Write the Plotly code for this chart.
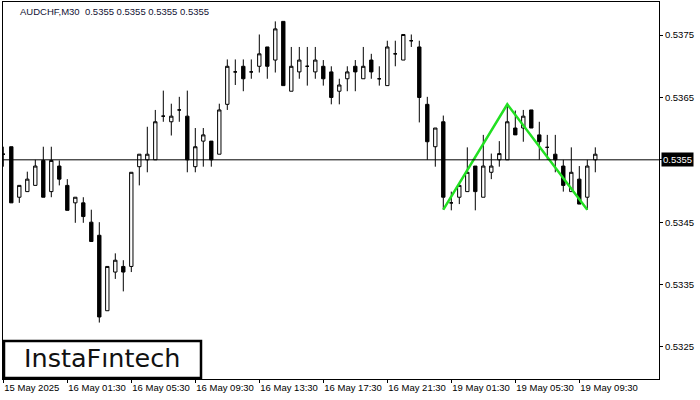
import plotly.graph_objects as go

# ---- data ----
opens = [0.53559, 0.53571, 0.53490, 0.53499, 0.53509, 0.53549, 0.53499, 0.53540, 0.53509, 0.53481,
         0.53481, 0.53450, 0.53429, 0.53308, 0.53370, 0.53379, 0.53379, 0.53539, 0.53550, 0.53550,
         0.53620, 0.53611, 0.53630, 0.53620, 0.53539, 0.53580, 0.53580, 0.53559, 0.53639, 0.53691,
         0.53700, 0.53691, 0.53700, 0.53731, 0.53710, 0.53772, 0.53660, 0.53691, 0.53700, 0.53691,
         0.53700, 0.53691, 0.53660, 0.53680, 0.53700, 0.53680, 0.53710, 0.53680, 0.53669, 0.53720,
         0.53710, 0.53741, 0.53731, 0.53639, 0.53571, 0.53611, 0.53481, 0.53490, 0.53499, 0.53540,
         0.53490, 0.53530, 0.53550, 0.53550, 0.53601, 0.53601, 0.53630, 0.53590, 0.53570, 0.53559,
         0.53540, 0.53499, 0.53519, 0.53490, 0.53550]
highs = [0.53571, 0.53571, 0.53509, 0.53531, 0.53550, 0.53571, 0.53571, 0.53549, 0.53519, 0.53490,
         0.53490, 0.53470, 0.53450, 0.53379, 0.53400, 0.53389, 0.53530, 0.53559, 0.53603, 0.53630,
         0.53661, 0.53640, 0.53651, 0.53661, 0.53601, 0.53601, 0.53580, 0.53640, 0.53711, 0.53711,
         0.53711, 0.53711, 0.53751, 0.53731, 0.53772, 0.53772, 0.53731, 0.53731, 0.53731, 0.53731,
         0.53710, 0.53700, 0.53680, 0.53700, 0.53710, 0.53731, 0.53720, 0.53700, 0.53741, 0.53741,
         0.53751, 0.53751, 0.53741, 0.53651, 0.53601, 0.53621, 0.53499, 0.53512, 0.53570, 0.53540,
         0.53590, 0.53560, 0.53580, 0.53639, 0.53629, 0.53630, 0.53630, 0.53611, 0.53590, 0.53590,
         0.53550, 0.53570, 0.53540, 0.53550, 0.53570]
lows = [0.53539, 0.53481, 0.53481, 0.53499, 0.53509, 0.53490, 0.53490, 0.53509, 0.53469, 0.53449,
        0.53449, 0.53419, 0.53289, 0.53308, 0.53359, 0.53339, 0.53370, 0.53509, 0.53530, 0.53550,
        0.53611, 0.53589, 0.53611, 0.53530, 0.53530, 0.53539, 0.53539, 0.53559, 0.53630, 0.53670,
        0.53660, 0.53680, 0.53690, 0.53680, 0.53690, 0.53669, 0.53660, 0.53680, 0.53669, 0.53680,
        0.53669, 0.53639, 0.53639, 0.53660, 0.53660, 0.53680, 0.53680, 0.53669, 0.53669, 0.53700,
        0.53710, 0.53731, 0.53610, 0.53550, 0.53539, 0.53470, 0.53469, 0.53479, 0.53499, 0.53469,
        0.53490, 0.53519, 0.53539, 0.53550, 0.53590, 0.53579, 0.53601, 0.53550, 0.53550, 0.53530,
        0.53499, 0.53499, 0.53479, 0.53470, 0.53530]
closes = [0.53559, 0.53481, 0.53509, 0.53519, 0.53540, 0.53490, 0.53549, 0.53519, 0.53469, 0.53490,
          0.53459, 0.53419, 0.53298, 0.53379, 0.53389, 0.53370, 0.53530, 0.53559, 0.53559, 0.53611,
          0.53620, 0.53620, 0.53630, 0.53550, 0.53571, 0.53590, 0.53550, 0.53630, 0.53700, 0.53691,
          0.53680, 0.53691, 0.53720, 0.53700, 0.53760, 0.53669, 0.53700, 0.53710, 0.53700, 0.53710,
          0.53680, 0.53650, 0.53670, 0.53691, 0.53691, 0.53700, 0.53691, 0.53680, 0.53731, 0.53720,
          0.53751, 0.53741, 0.53650, 0.53579, 0.53601, 0.53490, 0.53481, 0.53509, 0.53530, 0.53499,
          0.53540, 0.53540, 0.53560, 0.53611, 0.53590, 0.53620, 0.53601, 0.53579, 0.53570, 0.53550,
          0.53509, 0.53530, 0.53479, 0.53540, 0.53559]

tick_index = [0, 8, 16, 24, 32, 40, 48, 56, 64, 72]
tick_labels = ["15 May 2025", "16 May 01:30", "16 May 05:30", "16 May 09:30", "16 May 13:30",
               "16 May 17:30", "16 May 21:30", "19 May 01:30", "19 May 05:30", "19 May 09:30"]
price_ticks = [0.5325, 0.5335, 0.5345, 0.5355, 0.5365, 0.5375]
price_labels = ["0.5325", "0.5335", "0.5345", "", "0.5365", "0.5375"]

pattern_x = [55, 63, 73]
pattern_y = [0.5347, 0.53639, 0.5347]

current_price = 0.5355
title_text = "AUDCHF,M30  0.5355 0.5355 0.5355 0.5355"
logo_text = "InstaFıntech"

# ---- figure ----
W, H = 700, 400
ML, MR, MT, MB = 3, 41, 2, 21
PW, PH = W - ML - MR, H - MT - MB

def px_x(px):
    return (px - ML) / PW

def px_y(py):
    return (H - MB - py) / PH

x = list(range(len(opens)))
fig = go.Figure()
fig.add_trace(go.Candlestick(
    x=x, open=opens, high=highs, low=lows, close=closes,
    increasing=dict(line=dict(color="black", width=1), fillcolor="white"),
    decreasing=dict(line=dict(color="black", width=1), fillcolor="black"),
    whiskerwidth=0, hoverinfo="skip", showlegend=False,
))
fig.add_trace(go.Scatter(
    x=pattern_x, y=pattern_y, mode="lines",
    line=dict(color="#22e022", width=2.5), hoverinfo="skip", showlegend=False,
))

fig.add_shape(type="line", xref="paper", yref="y", x0=0, x1=1,
              y0=current_price, y1=current_price, line=dict(color="black", width=1))

xl = -0.3 / 8
fig.update_layout(
    width=W, height=H, autosize=False,
    margin=dict(l=ML, r=MR, t=MT, b=MB, pad=0),
    paper_bgcolor="white", plot_bgcolor="white",
    boxgap=0.4,
    font=dict(family="Liberation Sans, Arial, sans-serif", size=9.5, color="black"),
    xaxis=dict(
        range=[xl, xl + PW / 8], rangeslider=dict(visible=False),
        tickmode="array", tickvals=tick_index, ticktext=tick_labels,
        ticks="outside", ticklen=3, tickcolor="black", tickangle=0,
        ticklabelposition="outside right", automargin=False,
        showgrid=False, zeroline=False,
        showline=True, mirror=True, linecolor="black", linewidth=1,
        tickfont=dict(size=9.5, color="black"),
    ),
    yaxis=dict(
        range=[0.531985, 0.538031], side="right", automargin=False,
        tickmode="array", tickvals=price_ticks, ticktext=price_labels,
        ticks="outside", ticklen=3, tickcolor="black",
        showgrid=False, zeroline=False,
        showline=True, mirror=True, linecolor="black", linewidth=1,
        tickfont=dict(size=9.5, color="black"),
    ),
)

# price tag
fig.add_annotation(xref="paper", yref="y", x=1, y=current_price, xanchor="left", yanchor="middle",
                   xshift=2, text=f"{current_price:.4f}", showarrow=False,
                   font=dict(color="white", size=9.5), bgcolor="black", borderpad=1)
# title
fig.add_annotation(xref="paper", yref="paper", x=px_x(18), y=px_y(4), xanchor="left", yanchor="top",
                   text=title_text, showarrow=False, font=dict(color="#111133", size=9.5))
# logo box
fig.add_shape(type="rect", xref="paper", yref="paper",
              x0=px_x(4), x1=px_x(201), y0=px_y(378), y1=px_y(341),
              line=dict(color="black", width=2.5), fillcolor="white", layer="above")
fig.add_annotation(xref="paper", yref="paper", x=px_x(102), y=px_y(358), xanchor="center", yanchor="middle",
                   text=logo_text, showarrow=False,
                   font=dict(family="DejaVu Sans, sans-serif", size=25.5, color="#111111"))

fig.write_html("out.html", config={"displayModeBar": False, "staticPlot": True},
               post_script="document.body.style.margin='0px';")
